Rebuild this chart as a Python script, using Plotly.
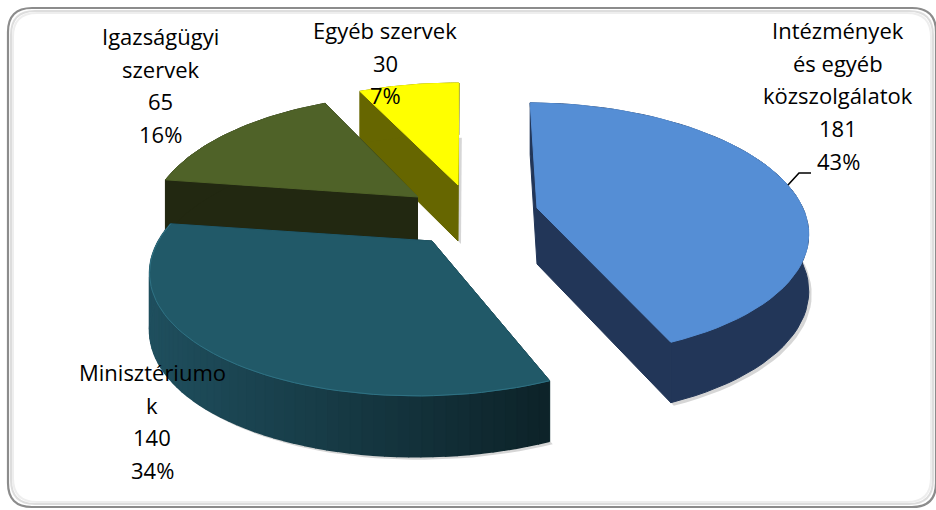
import numpy as np
import plotly.graph_objects as go

# ---- data ----
categories = ["Intézmények és egyéb közszolgálatok", "Minisztériumok", "Igazságügyi szervek", "Egyéb szervek"]
values = [181, 140, 65, 30]
percents = ["43%", "34%", "16%", "7%"]
label_lines = [
    ["Intézmények", "és egyéb", "közszolgálatok"],
    ["Minisztériumo", "k"],
    ["Igazságügyi", "szervek"],
    ["Egyéb szervek"],
]

# ---- styling / layout ----
FONT = "Open Sans"
FS = 22
LINE_H = 32.7
label_pos = [(838, 30), (152, 372), (160, 36), (385, 30)]
apex = [(537, 208), (432, 241), (418, 197), (458, 185)]
top_col = ["#558ed5", "#215968", "#4f6228", "#ffff00"]
side_col = ["#223658", None, "#222811", "#666600"]
scale_x = [0.99, 1.015, 0.977, 0.995]
skew_x = [-8, 14, 5.5, 1]
persp = [0.17, 0.206, 0.206, 0.206]
A, E, F = 269, 1, -123
DEPTH, DK = 56, 0.08


def proj(theta_deg, i):
    t = np.radians(theta_deg)
    u, v = np.sin(t), np.cos(t)
    w = 1 + persp[i] * v
    return (scale_x[i] * A * u + skew_x[i] * v) / w, (E * u + F * v) / w, DEPTH / (1 + DK * v)


def mix(c1, c2, f):
    a = [int(c1[i:i + 2], 16) for i in (1, 3, 5)]
    b = [int(c2[i:i + 2], 16) for i in (1, 3, 5)]
    return "rgb(%d,%d,%d)" % tuple(round(p + (q - p) * f) for p, q in zip(a, b))


fig = go.Figure()


def poly(xs, ys, fill, line=None, lw=1.0):
    fig.add_trace(go.Scatter(
        x=list(xs), y=list(ys), mode="lines", fill="toself", fillcolor=fill,
        line=dict(color=line or fill, width=lw), hoverinfo="skip", showlegend=False))


total = sum(values)
edges = np.concatenate([[0], np.cumsum(values)]) / total * 360

# paint back to front: yellow, olive, teal, blue
for i in [3, 2, 1, 0]:
    a0, a1 = edges[i], edges[i + 1]
    ax, ay = apex[i]
    th = np.linspace(a0, a1, 61)
    px, py, pd = proj(th, i)
    X, Y = ax + px, ay + py
    D0 = DEPTH

    # soft drop shadow of the whole extruded silhouette
    poly(np.r_[ax + 3, X + 3, ax + 3], np.r_[ay + D0 + 3, Y + pd + 3, ay + D0 + 3],
         "rgba(0,0,0,0.16)", "rgba(0,0,0,0)", 0)

    # flat cut faces
    face = side_col[i] or "#0f2a31"
    for j in (0, -1):
        poly([ax, X[j], X[j], ax], [ay, Y[j], Y[j] + pd[j], ay + D0], face)

    # outer wall: one polygon when flat, narrow strips when shaded
    if side_col[i]:
        poly(np.r_[X, X[::-1]], np.r_[Y, (Y + pd)[::-1]], side_col[i])
    else:
        xmin, xmax = X.min(), X.max()
        for j in range(len(th) - 1):
            f = (X[j] - xmin) / (xmax - xmin)
            col = mix("#1f4f5e", "#0d2329", f)
            poly([X[j], X[j + 1], X[j + 1], X[j]],
                 [Y[j], Y[j + 1], Y[j + 1] + pd[j + 1], Y[j] + pd[j]], col, lw=1.6)

    # top face
    poly(np.r_[ax, X, ax], np.r_[ay, Y, ay], top_col[i])
    if i == 1:
        fig.add_trace(go.Scatter(x=X, y=Y, mode="lines", line=dict(color="#2f7284", width=1),
                                 hoverinfo="skip", showlegend=False))

# labels
annotations = []
for i, lines in enumerate(label_lines):
    lx, ly = label_pos[i]
    for n, t in enumerate(lines + [str(values[i]), percents[i]]):
        annotations.append(dict(
            x=lx, y=ly + n * LINE_H, xref="x", yref="y", text=t, showarrow=False,
            xanchor="center", yanchor="middle",
            font=dict(family=FONT, size=FS, weight=500, color="#000000")))


def rrect(x0, y0, x1, y1, r):
    return (f"M{x0 + r},{y0} L{x1 - r},{y0} Q{x1},{y0} {x1},{y0 + r} L{x1},{y1 - r} "
            f"Q{x1},{y1} {x1 - r},{y1} L{x0 + r},{y1} Q{x0},{y1} {x0},{y1 - r} "
            f"L{x0},{y0 + r} Q{x0},{y0} {x0 + r},{y0} Z")


shapes = []
for off, col, w in [(5, "#eeeeee", 2), (3, "#dddddd", 2), (0, "#8c8c8c", 2.2)]:
    shapes.append(dict(type="path", path=rrect(8 + off, 8 + off, 936 - off, 507 - off, 24),
                       xref="x", yref="y", line=dict(color=col, width=w),
                       fillcolor="rgba(0,0,0,0)", layer="below"))
shapes.append(dict(type="path", path="M788,185 L799,173 L811,173", xref="x", yref="y",
                   line=dict(color="#000000", width=1.6), layer="above"))

fig.update_layout(
    width=936, height=510, autosize=False,
    margin=dict(l=0, r=0, t=0, b=0),
    paper_bgcolor="#ffffff", plot_bgcolor="#ffffff",
    xaxis=dict(range=[0, 936], visible=False, fixedrange=True),
    yaxis=dict(range=[510, 0], visible=False, fixedrange=True),
    annotations=annotations, shapes=shapes, showlegend=False,
)
fig.write_html("out.html", post_script="document.body.style.margin='0';",
               config={"displayModeBar": False})
